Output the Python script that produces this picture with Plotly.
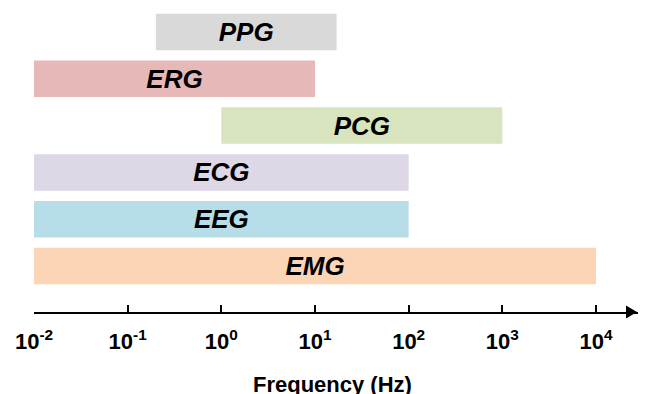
import plotly.graph_objects as go

# Data
signals = ["EMG", "EEG", "ECG", "PCG", "ERG", "PPG"]
f_low = [0.01, 0.01, 0.01, 1, 0.01, 0.2]
f_high = [10000, 100, 100, 1000, 10, 17]
colors = ["#FBD5B5", "#B7DEE8", "#DDD7E6", "#D7E4BD", "#E6B9B8", "#D9D9D9"]
tick_vals = [0.01, 0.1, 1, 10, 100, 1000, 10000]
tick_text = ["10<sup>-2</sup>", "10<sup>-1</sup>", "10<sup>0</sup>", "10<sup>1</sup>",
             "10<sup>2</sup>", "10<sup>3</sup>", "10<sup>4</sup>"]

FONT = "Liberation Sans, Arial, sans-serif"

fig = go.Figure()
fig.add_trace(go.Bar(
    y=signals,
    base=f_low,
    x=[h - l for h, l in zip(f_high, f_low)],
    orientation="h",
    width=0.78,
    marker=dict(color=colors, line=dict(width=0)),
    text=[f"<b><i>{s}</i></b>" for s in signals],
    textposition="inside",
    insidetextanchor="middle",
    textangle=0,
    constraintext="none",
    textfont=dict(family=FONT, size=26, color="black"),
    hoverinfo="skip",
))

# page body has an 8px margin, so the figure is offset by 8px
PLOT_W, PLOT_H = 612, 304
TIP = 1 - 9 / PLOT_W
fig.update_layout(
    width=638, height=386,
    margin=dict(l=26, r=0, t=0, b=82, pad=0, autoexpand=False),
    paper_bgcolor="white", plot_bgcolor="white",
    showlegend=False,
    xaxis=dict(
        type="log",
        range=[-2, 4.534],
        automargin=False,
        showgrid=False, zeroline=False,
        showline=True, linecolor="black", linewidth=2,
        ticks="inside", ticklen=7, tickwidth=1.5, tickcolor="black",
        tickvals=tick_vals, ticktext=tick_text,
        tickfont=dict(family=FONT, size=22, color="black", weight="bold"),
        ticklabelstandoff=9,
    ),
    yaxis=dict(
        visible=False, automargin=False,
        categoryorder="array", categoryarray=signals,
        range=[-0.983, 5.513],
    ),
    annotations=[
        dict(xref="paper", yref="paper", x=0.487, y=0, yshift=-72,
             xanchor="center", yanchor="middle", showarrow=False,
             text="<b>Frequency (Hz)</b>",
             font=dict(family=FONT, size=22, color="black")),
    ],
    shapes=[
        # arrowhead at the end of the frequency axis
        dict(type="path", xref="paper", yref="paper",
             path=f"M {TIP - 11/PLOT_W},{6.5/PLOT_H} L {TIP},0 L {TIP - 11/PLOT_W},{-6.5/PLOT_H} Z",
             fillcolor="black", line=dict(width=0), layer="above"),
    ],
)

fig.write_html("out.html")
